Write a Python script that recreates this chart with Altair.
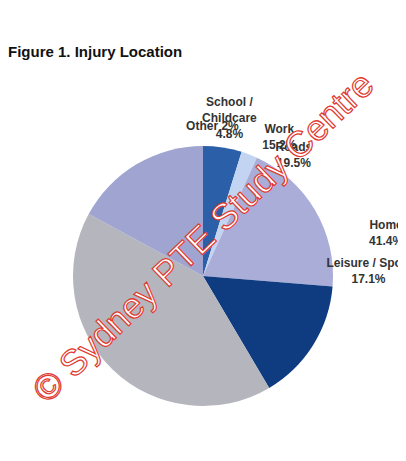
import altair as alt
import pandas as pd

categories = ["School / Childcare", "Other", "Roads", "Work", "Home", "Leisure / Sport"]
values = [4.8, 2.0, 19.5, 15.2, 41.4, 17.1]
labels = [["School /", "Childcare", "4.8%"], ["Other 2%"], ["Roads", "19.5%"],
          ["Work", "15.2%"], ["Home", "41.4%"], ["Leisure / Sport", "17.1%"]]
label_radius = [176, 150, 158, 166, 190, 166]
colors = ["#2b5fa8", "#c3d4f2", "#aaadd7", "#0f3b80", "#b5b5bd", "#a0a4d0"]

df = pd.DataFrame({"category": categories, "value": values, "label": labels,
                   "r": label_radius, "order": list(range(len(categories)))})

base = alt.Chart(df).encode(
    theta=alt.Theta("value:Q", stack=True),
    order=alt.Order("order:Q"),
)

pie = base.mark_arc(radius=130).encode(
    color=alt.Color("category:N", scale=alt.Scale(domain=categories, range=colors), legend=None)
)

text = base.mark_text(font="Liberation Sans", fontSize=12,
                      fontWeight="bold", color="#333333", lineHeight=16).encode(
    text="label",
    radius=alt.Radius("r:Q", scale=None),
)

mark = alt.Chart(pd.DataFrame({"t": ["© Sydney PTE Study Centre"]})).mark_text(
    font="Liberation Sans", fontSize=36, angle=316, fill="white",
    stroke="#e03a30", strokeWidth=1.2
).encode(text="t:N", x=alt.value(196), y=alt.value(170))

chart = (
    alt.layer(pie, text, mark)
    .properties(
        width=390, height=416,
        autosize=alt.AutoSizeParams(type="none"),
        padding={"top": 60, "left": 0, "right": 0, "bottom": 0},
        title=alt.Title("Figure 1. Injury Location", anchor="start", fontSize=15,
                        font="Liberation Sans", fontWeight="bold", offset=6, color="#111111"),
        background="white",
    )
    .configure_view(strokeWidth=0)
)

chart.save("out.html", embed_options={"renderer": "svg", "actions": False})
